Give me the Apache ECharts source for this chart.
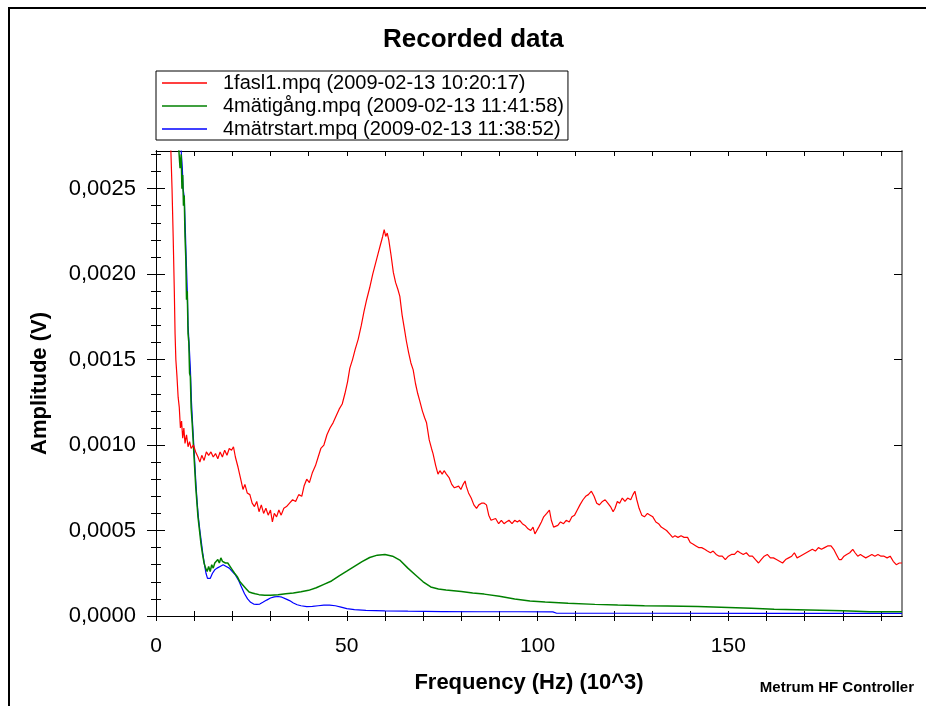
<!DOCTYPE html>
<html>
<head>
<meta charset="utf-8">
<script src="https://cdn.jsdelivr.net/npm/echarts@6/dist/echarts.min.js"></script>
<style>html,body{margin:0;padding:0;background:#fff}#c{width:926px;height:706px}</style>
</head>
<body>
<div id="c"></div>
<script>
// ---- tick values ----
var xLabelTicks = [0, 50, 100, 150];
var xMinorTicks = [0,10,20,30,40,50,60,70,80,90,100,110,120,130,140,150,160,170,180,190];
var yMajorTicks = [0, 0.0005, 0.0010, 0.0015, 0.0020, 0.0025];
var yMinorTicks = [0.0001,0.0002,0.0003,0.0004,0.0006,0.0007,0.0008,0.0009,0.0011,0.0012,0.0013,0.0014,0.0016,0.0017,0.0018,0.0019,0.0021,0.0022,0.0023,0.0024,0.0026,0.0027];

// ---- series names ----
var seriesNames = ['1fasl1.mpq (2009-02-13 10:20:17)', '4mätigång.mpq (2009-02-13 11:41:58)', '4mätrstart.mpq (2009-02-13 11:38:52)'];

// ---- red: 1fasl1 ----
var redFreq = [3.6,3.9,4.2,4.5,4.8,5.0,5.2,5.5,5.8,6.1,6.4,6.7,7.0,7.3,7.6,8.0,8.4,8.8,9.2,9.8,10.4,11.0,11.5,12.0,12.6,13.2,13.8,14.4,15.0,15.6,16.2,16.8,17.4,18.0,18.6,19.2,19.8,20.3,20.8,21.5,22.2,22.8,23.3,23.9,24.6,25.2,25.8,26.4,27.0,27.6,28.2,28.8,29.4,30.0,30.5,31.0,31.6,32.2,32.8,33.5,34.2,35.0,35.8,36.6,37.4,38.2,38.8,39.5,40.2,41.0,41.8,42.5,43.2,44.0,44.8,45.6,46.4,47.2,48.0,48.8,49.5,50.2,50.8,51.5,52.2,53.0,53.8,54.5,55.2,56.0,56.8,57.5,58.2,58.8,59.4,59.8,60.2,60.6,61.0,61.6,62.2,62.8,63.4,63.9,64.5,65.1,65.6,66.2,66.8,67.4,68.0,68.6,69.1,69.8,70.4,70.9,71.6,72.2,72.6,73.3,73.9,74.4,75.0,75.5,76.1,76.8,77.5,78.2,78.7,79.3,79.9,80.5,81.0,81.3,81.9,82.6,83.3,84.0,84.6,85.3,86.0,86.6,87.2,87.8,88.3,89.0,89.8,90.5,91.2,91.8,92.5,93.3,94.0,94.7,95.3,96.0,96.7,97.5,98.2,98.8,99.3,99.7,100.3,101.0,101.6,102.4,103.1,103.6,104.2,104.6,105.3,106.0,106.8,107.5,108.3,109.0,109.7,110.4,111.1,111.9,112.6,113.3,114.1,114.8,115.5,116.2,117.0,117.7,118.4,119.1,119.8,120.3,120.9,121.5,122.2,122.9,123.6,124.4,125.0,125.5,126.0,126.6,127.3,128.0,128.8,129.5,130.2,131.0,131.7,132.4,133.1,133.8,134.6,135.4,136.0,136.8,137.6,138.4,139.3,140.0,140.8,141.5,142.2,143.0,143.8,144.5,145.3,146.0,146.8,147.6,148.4,149.2,150.0,150.8,151.6,152.4,153.1,153.9,154.7,155.5,156.3,157.1,157.9,158.6,159.4,160.2,161.0,161.8,162.6,163.4,164.2,165.0,165.8,166.6,167.3,168.0,168.8,169.6,170.4,171.2,172.0,172.8,173.6,174.4,175.2,176.0,176.9,177.6,178.3,179.0,179.6,180.3,181.0,181.8,182.6,183.2,183.9,184.6,185.3,186.0,186.8,187.6,188.4,189.2,190.0,190.8,191.6,192.4,193.2,194.0,194.8,195.5];
var redAmp = [0.00300,0.00272,0.00250,0.00222,0.00190,0.00165,0.00150,0.00140,0.00128,0.00122,0.00110,0.00114,0.00104,0.00110,0.00101,0.00106,0.00099,0.00102,0.00098,0.00100,0.00096,0.00093,0.00090,0.00094,0.00091,0.00096,0.00094,0.00096,0.00093,0.00095,0.00092,0.00096,0.00093,0.00097,0.00094,0.00098,0.00097,0.00099,0.00093,0.00087,0.00080,0.00074,0.00077,0.00072,0.00071,0.00066,0.00064,0.00067,0.00061,0.00065,0.00060,0.00063,0.00059,0.00062,0.00055,0.00060,0.00058,0.00062,0.00059,0.00063,0.00064,0.00066,0.00068,0.00067,0.00071,0.00070,0.00076,0.00080,0.00078,0.00084,0.00088,0.00093,0.00098,0.00100,0.00106,0.00110,0.00113,0.00117,0.00121,0.00124,0.00130,0.00137,0.00145,0.00150,0.00156,0.00162,0.00170,0.00178,0.00185,0.00192,0.00200,0.00206,0.00212,0.00217,0.00222,0.00226,0.00222,0.00224,0.00220,0.00211,0.00201,0.00195,0.00191,0.00187,0.00176,0.00168,0.00161,0.00154,0.00148,0.00144,0.00136,0.00130,0.00126,0.00120,0.00116,0.00113,0.00103,0.00098,0.00095,0.00088,0.00083,0.00085,0.00083,0.00085,0.00083,0.00081,0.00077,0.00075,0.00074,0.00076,0.00074,0.00077,0.00079,0.00076,0.00072,0.00069,0.00065,0.00063,0.00065,0.00066,0.00066,0.00065,0.00059,0.00056,0.00055,0.00057,0.00054,0.00056,0.00054,0.00055,0.00056,0.00054,0.00056,0.00055,0.00056,0.00054,0.00053,0.00051,0.00050,0.00052,0.00048,0.00049,0.00052,0.00055,0.00058,0.00060,0.00062,0.00056,0.00052,0.00053,0.00053,0.00055,0.00054,0.00056,0.00055,0.00058,0.00059,0.00062,0.00065,0.00068,0.00070,0.00071,0.00073,0.00070,0.00066,0.00065,0.00067,0.00068,0.00066,0.00064,0.00061,0.00063,0.00067,0.00066,0.00069,0.00067,0.00069,0.00068,0.00071,0.00073,0.00068,0.00063,0.00059,0.00058,0.00060,0.00059,0.00058,0.00055,0.00054,0.00052,0.00051,0.00050,0.00048,0.00046,0.00047,0.00046,0.00047,0.00046,0.00046,0.00043,0.00042,0.00041,0.00040,0.00040,0.00039,0.00038,0.00037,0.00038,0.00036,0.00035,0.00035,0.00033,0.00035,0.00036,0.00036,0.00038,0.00037,0.00036,0.00037,0.00035,0.00035,0.00033,0.00031,0.00033,0.00035,0.00036,0.00034,0.00034,0.00033,0.00032,0.00031,0.00033,0.00034,0.00035,0.00037,0.00034,0.00035,0.00036,0.00037,0.00038,0.00039,0.00038,0.00040,0.00039,0.00040,0.00041,0.00041,0.00039,0.00036,0.00033,0.00033,0.00035,0.00036,0.00037,0.00039,0.00037,0.00035,0.00036,0.00035,0.00034,0.00035,0.00036,0.00035,0.00036,0.00035,0.00035,0.00034,0.00035,0.00032,0.00030,0.00031,0.00031];

// ---- green: 4mätigång ----
var greenFreq = [5.8,6.0,6.3,6.6,6.8,7.0,7.2,7.4,7.6,7.8,8.0,8.2,8.4,8.6,8.8,9.0,9.2,9.5,9.8,10.1,10.4,10.7,11.0,11.4,11.8,12.2,12.6,13.0,13.4,13.8,14.2,14.6,15.0,15.4,15.8,16.2,16.6,17.0,17.4,17.8,18.2,18.8,19.4,20.0,20.6,21.3,22.0,22.8,23.6,24.4,25.2,26.0,27.0,28.5,30.0,32.0,34.0,36.0,38.0,40.0,42.0,44.0,46.0,48.0,50.0,52.0,54.0,56.0,58.0,60.0,62.0,64.0,66.0,68.0,70.0,72.0,74.0,76.0,78.0,80.0,83.0,86.0,90.0,94.0,98.0,102.0,108.0,115.0,121.0,128.0,134.0,142.0,150.0,156.0,162.0,168.0,174.0,180.0,187.0,195.5];
var greenAmp = [0.00300,0.00272,0.00262,0.00270,0.00250,0.00258,0.00240,0.00246,0.00222,0.00210,0.00185,0.00190,0.00165,0.00160,0.00142,0.00140,0.00122,0.00112,0.00100,0.00088,0.00076,0.00067,0.00058,0.00050,0.00042,0.00036,0.00031,0.00028,0.00026,0.00029,0.00026,0.00030,0.00028,0.00031,0.00030,0.00033,0.00031,0.00034,0.00032,0.00033,0.00031,0.00031,0.00029,0.00027,0.00025,0.00023,0.00020,0.00018,0.00016,0.00014,0.000135,0.00013,0.000125,0.000122,0.000122,0.000125,0.00013,0.000135,0.000142,0.00015,0.000165,0.000185,0.000205,0.000235,0.000262,0.00029,0.000318,0.000342,0.000356,0.00036,0.00035,0.000325,0.00028,0.00024,0.0002,0.00017,0.000158,0.000152,0.000148,0.000143,0.000135,0.000128,0.000115,0.0001,0.000088,0.000082,0.000074,0.000068,0.000064,0.00006,0.000058,0.000055,0.00005,0.000046,0.00004,0.000037,0.000034,0.00003,0.000025,0.000025];

// ---- blue: 4mätrstart ----
var blueFreq = [6.3,6.6,6.9,7.1,7.4,7.7,7.9,8.2,8.4,8.7,9.0,9.3,9.6,9.9,10.2,10.5,10.8,11.1,11.5,11.9,12.3,12.7,13.1,13.5,13.8,14.2,14.8,15.4,16.0,16.8,17.6,18.4,19.2,20.0,20.8,21.6,22.4,23.2,24.0,24.8,25.6,26.4,27.2,28.0,29.0,30.0,31.0,32.0,33.0,34.0,35.0,36.0,37.0,38.0,39.5,41.0,42.5,44.0,45.5,47.0,48.5,50.0,52.0,55.0,60.0,66.0,75.0,85.0,95.0,104.0,105.0,130.0,160.0,195.5];
var blueAmp = [0.00300,0.00272,0.00262,0.00250,0.00245,0.00225,0.00210,0.00190,0.00170,0.00158,0.00145,0.00125,0.00112,0.00100,0.00088,0.00076,0.00066,0.00058,0.00050,0.00043,0.00036,0.00030,0.00025,0.00022,0.00021,0.00022,0.00025,0.00027,0.00028,0.00029,0.00030,0.00029,0.00028,0.00026,0.00024,0.00021,0.00017,0.00013,0.00010,0.00008,0.00007,0.000068,0.00007,0.00008,0.000093,0.000105,0.000112,0.000114,0.00011,0.00010,0.00009,0.000076,0.000066,0.00006,0.000055,0.000056,0.00006,0.000064,0.000064,0.00006,0.000052,0.000043,0.000037,0.000033,0.00003,0.000028,0.000026,0.000025,0.000025,0.000024,0.000016,0.000016,0.000015,0.000015];

function zip(a, b) { return a.map(function (v, i) { return [v, b[i]]; }); }

var FONT = "'Liberation Sans', Arial, sans-serif";
var X_MIN = 0, X_MAX = 195.5, Y_MIN = 0, Y_MAX = 0.00272;

function fmtY(v) { return v.toFixed(4).replace('.', ','); }

function xAx(opts) {
  var base = {
    type: 'value', min: X_MIN, max: X_MAX, position: 'bottom', offset: 0,
    splitLine: { show: false },
    axisLine: { show: true, onZero: false, lineStyle: { color: '#000', width: 1 } },
    axisLabel: { show: false },
    axisTick: { show: true, inside: false, length: 5, customValues: xMinorTicks, lineStyle: { color: '#000', width: 1 } }
  };
  return Object.assign(base, opts);
}
function yAx(opts) {
  var base = {
    type: 'value', min: Y_MIN, max: Y_MAX, position: 'left', offset: 0,
    splitLine: { show: false },
    axisLine: { show: true, onZero: false, lineStyle: { color: '#000', width: 1 } },
    axisLabel: { show: false },
    axisTick: { show: true, inside: false, length: 9, customValues: yMajorTicks, lineStyle: { color: '#000', width: 1 } }
  };
  return Object.assign(base, opts);
}

var chart = echarts.init(document.getElementById('c'), null, { renderer: 'canvas' });
chart.setOption({
  animation: false,
  backgroundColor: '#fff',
  textStyle: { fontFamily: FONT },
  title: [
    { text: 'Recorded data', left: 383, top: 27, padding: 0,
      textStyle: { fontFamily: FONT, fontSize: 26, fontWeight: 'bold', color: '#000' } },
    { text: 'Metrum HF Controller', right: 12, top: 680, padding: 0,
      textStyle: { fontFamily: FONT, fontSize: 15, fontWeight: 'bold', color: '#000' } }
  ],
  legend: {
    data: seriesNames,
    orient: 'vertical',
    left: 156, top: 71,
    padding: [1, 4, 0, 6],
    itemGap: 1,
    icon: 'rect',
    itemWidth: 45, itemHeight: 1.5,
    borderColor: '#000', borderWidth: 1,
    backgroundColor: '#fff',
    textStyle: { fontFamily: FONT, fontSize: 20, color: '#000', lineHeight: 22, padding: [0, 0, 0, 11] }
  },
  grid: { left: 156, right: 24, top: 151, bottom: 90, outerBoundsMode: 'none', containLabel: false },
  graphic: [
    { type: 'rect', shape: { x: 9, y: 8, width: 1200, height: 1200 }, style: { fill: 'none', stroke: '#000', lineWidth: 2 }, silent: true, z: 100 }
  ],
  xAxis: [
    xAx({
      name: 'Frequency (Hz) (10^3)', nameLocation: 'middle', nameGap: 56,
      nameTextStyle: { fontFamily: FONT, fontSize: 22, fontWeight: 'bold', color: '#000' },
      axisLabel: { show: true, customValues: xLabelTicks, margin: 20, fontFamily: FONT, fontSize: 21, color: '#000' },
      axisTick: { show: true, inside: false, length: 5, customValues: xMinorTicks, lineStyle: { color: '#000' } }
    }),
    xAx({ axisTick: { show: true, inside: true, length: 5, customValues: xMinorTicks, lineStyle: { color: '#000' } } }),
    xAx({ position: 'top', axisTick: { show: true, inside: true, length: 5, customValues: xMinorTicks, lineStyle: { color: '#000' } } })
  ],
  yAxis: [
    yAx({
      name: 'Amplitude (V)', nameLocation: 'middle', nameGap: 105,
      nameTextStyle: { fontFamily: FONT, fontSize: 22, fontWeight: 'bold', color: '#000' },
      axisLabel: { show: true, customValues: yMajorTicks, margin: 20, fontFamily: FONT, fontSize: 22, color: '#000', formatter: fmtY },
      axisTick: { show: true, inside: false, length: 9, customValues: yMajorTicks, lineStyle: { color: '#000' } }
    }),
    yAx({ axisTick: { show: true, inside: true, length: 9, customValues: yMajorTicks, lineStyle: { color: '#000' } } }),
    yAx({ axisTick: { show: true, inside: false, length: 5, customValues: yMinorTicks, lineStyle: { color: '#000' } } }),
    yAx({ axisTick: { show: true, inside: true, length: 5, customValues: yMinorTicks, lineStyle: { color: '#000' } } }),
    yAx({ position: 'right', axisLine: { show: true, onZero: false, lineStyle: { color: '#888', width: 2 } },
          axisTick: { show: true, inside: true, length: 8, customValues: yMajorTicks, lineStyle: { color: '#000' } } }),
    yAx({ position: 'right', axisLine: { show: false },
          axisTick: { show: true, inside: true, length: 5, customValues: yMinorTicks, lineStyle: { color: '#000' } } })
  ],
  series: [
    { name: seriesNames[2], type: 'line', data: zip(blueFreq, blueAmp), xAxisIndex: 0, yAxisIndex: 0,
      showSymbol: false, symbol: 'none', color: '#0000ff', lineStyle: { width: 1.2, color: '#0000ff' }, clip: true, z: 3 },
    { name: seriesNames[1], type: 'line', data: zip(greenFreq, greenAmp), xAxisIndex: 0, yAxisIndex: 0,
      showSymbol: false, symbol: 'none', color: '#008000', lineStyle: { width: 1.5, color: '#008000' }, clip: true, z: 4 },
    { name: seriesNames[0], type: 'line', data: zip(redFreq, redAmp), xAxisIndex: 0, yAxisIndex: 0,
      showSymbol: false, symbol: 'none', color: '#ff0000', lineStyle: { width: 1.2, color: '#ff0000' }, clip: true, z: 5 }
  ]
});
</script>
</body>
</html>
